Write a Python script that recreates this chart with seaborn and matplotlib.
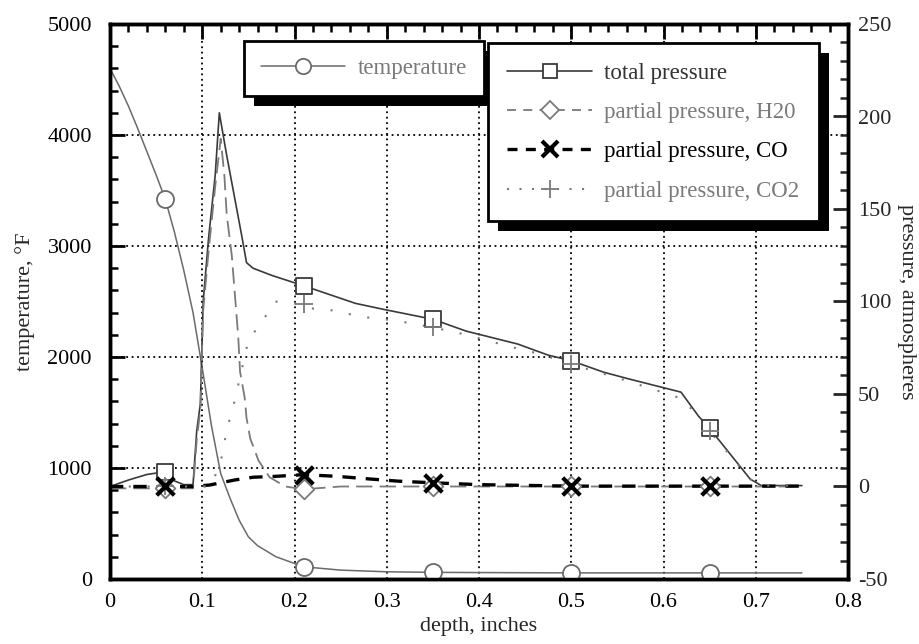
import matplotlib
matplotlib.use("Agg")
import matplotlib.pyplot as plt
import pandas as pd
import seaborn as sns
from matplotlib.lines import Line2D
from matplotlib.patches import Rectangle
from matplotlib.transforms import IdentityTransform
from matplotlib.ticker import MultipleLocator

# ---------------- data ----------------
marker_depths = [0.06, 0.21, 0.35, 0.50, 0.65]

depth_temp = [0, .01, .02, .03, .04, .05, .06, .07, .08, .09, .10, .11, .12, .13,
              .14, .15, .16, .18, .21, .25, .30, .35, .40, .50, .60, .65, .75]
temperature = [4600, 4440, 4260, 4060, 3850, 3640, 3420, 3120, 2780, 2400, 1900,
               1380, 950, 730, 530, 380, 300, 200, 110, 80, 65, 60, 58, 55, 55, 55, 55]

depth_total = [0, .02, .04, .06, .07, .08, .09, .094, .098, .101, .107, .114, .1185,
               .1265, .137, .143, .148, .155, .176, .21, .266, .297, .35, .386, .442,
               .475, .50, .535, .562, .619, .638, .65, .694, .706, .75]
total_pressure = [0, 3.5, 6.5, 8, 3, 1, 1, 30, 45, 100, 135, 168, 202,
                  179, 151, 135, 121, 118, 114, 108.5, 99, 95.7, 90.4, 84, 77,
                  71, 68, 61.8, 58.2, 51, 38, 31.4, 4, 0.5, 0.5]

depth_h2o = [0, .03, .06, .09, .094, .098, .101, .107, .114, .12, .124, .1265, .132,
             .1355, .139, .141, .146, .148, .152, .161, .173, .19, .21, .25, .35,
             .50, .65, .75]
pp_h2o = [-1, -1, -1, -1, 25, 42, 95, 128, 162, 188, 168, 147, 125,
          103, 81, 62, 48, 37, 26, 14, 5, 0, -1.5, 0, 0,
          0, 0, 0]

depth_co = [0, .06, .09, .108, .135, .155, .18, .21, .246, .268, .291, .312, .35,
            .40, .50, .65, .75]
pp_co = [0, 0, 0, 0.8, 3.5, 5, 5.5, 6.4, 5.5, 4.6, 3.7, 2.9, 2,
         1, 0.2, 0.2, 0.2]

depth_co2 = [0, .06, .11, .112, .12, .124, .129, .135, .15, .166, .179, .21, .221,
             .2465, .268, .291, .312, .35, .378, .446, .467, .50, .555, .62, .638,
             .65, .694, .706, .75]
pp_co2 = [0, 0, 0, 3.5, 13, 24, 35, 46, 79, 90, 100, 98.4, 96,
          95, 92, 90.7, 89.5, 86, 83, 74, 71.6, 66, 58, 47.5, 37.7,
          30, 4, 0.5, 0.5]

x_ticks = [0, 0.1, 0.2, 0.3, 0.4, 0.5, 0.6, 0.7, 0.8]
left_ticks = [0, 1000, 2000, 3000, 4000, 5000]
right_ticks = [-50, 0, 50, 100, 150, 200, 250]

labels = ["temperature", "total pressure", "partial pressure, H20",
          "partial pressure, CO", "partial pressure, CO2"]

# ---------------- style ----------------
sns.set_theme(style="white")
plt.rcParams['font.family'] = ['Liberation Serif', 'DejaVu Serif']
plt.rcParams['mathtext.fontset'] = 'stix'

C_TEMP = '#6a6a6a'
C_TOT = '#3a3a3a'
C_H2O = '#7a7a7a'
C_CO = '#000000'
C_CO2 = '#7a7a7a'

fig = plt.figure(figsize=(9.19, 6.44), dpi=100)
ax = fig.add_axes([110 / 919, 1 - 579 / 644, (848 - 110) / 919, (579 - 24) / 644])
ax2 = ax.twinx()


def frame(x, y):
    return pd.DataFrame({"x": x, "y": y})


def at_markers(x, y):
    d = frame(x, y)
    return d[d["x"].round(4).isin([round(m, 4) for m in marker_depths])]


# temperature on the left axis
sns.lineplot(data=frame(depth_temp, temperature), x="x", y="y", ax=ax, color=C_TEMP,
             lw=1.1, estimator=None, sort=False)
mt = at_markers(depth_temp, temperature)
sns.scatterplot(data=mt, x="x", y="y", ax=ax, marker='o', s=150, color='white',
                edgecolor=C_TEMP, linewidth=1.3, zorder=4)

# pressures on the right axis
sns.lineplot(data=frame(depth_total, total_pressure), x="x", y="y", ax=ax2, color=C_TOT,
             lw=1.2, estimator=None, sort=False)
sns.lineplot(data=frame(depth_h2o, pp_h2o), x="x", y="y", ax=ax2, color=C_H2O,
             lw=1.3, estimator=None, sort=False, dashes=False, linestyle=(0, (9, 4)))
sns.lineplot(data=frame(depth_co, pp_co), x="x", y="y", ax=ax2, color=C_CO,
             lw=2.4, estimator=None, sort=False, linestyle=(0, (4, 3)))
sns.lineplot(data=frame(depth_co2, pp_co2), x="x", y="y", ax=ax2, color=C_CO2,
             lw=1.5, estimator=None, sort=False, linestyle=(0, (1, 8)))

sns.scatterplot(data=at_markers(depth_total, total_pressure), x="x", y="y", ax=ax2,
                marker='s', s=120, color='white', edgecolor=C_TOT, linewidth=1.3, zorder=4)
sns.scatterplot(data=at_markers(depth_h2o, pp_h2o), x="x", y="y", ax=ax2,
                marker='D', s=100, color='white', edgecolor=C_H2O, linewidth=1.3, zorder=4)
sns.scatterplot(data=at_markers(depth_co2, pp_co2), x="x", y="y", ax=ax2,
                marker='+', s=170, color=C_CO2, linewidth=1.3, zorder=5)
sns.scatterplot(data=at_markers(depth_co, pp_co), x="x", y="y", ax=ax2,
                marker='x', s=160, color=C_CO, linewidth=3.0, zorder=6)

# ---------------- axes ----------------
ax.set_xlim(0, 0.8)
ax.set_ylim(0, 5000)
ax2.set_ylim(-50, 250)
ax.set_xticks(x_ticks)
ax.set_xticklabels([f"{v:g}" for v in x_ticks])
ax.set_yticks(left_ticks)
ax.set_yticklabels([str(v) for v in left_ticks])
ax2.set_yticks(right_ticks)
ax2.set_yticklabels([str(v) for v in right_ticks])
ax.xaxis.set_minor_locator(MultipleLocator(0.02))
ax.yaxis.set_minor_locator(MultipleLocator(200))
ax2.yaxis.set_minor_locator(MultipleLocator(10))

ax.grid(True, which='major', color='black', linestyle=(0, (1, 2)), linewidth=1.3)
ax2.grid(False)

ax.tick_params(axis='both', which='both', direction='in', top=True, right=False,
               labelsize=16, colors='black')
ax.tick_params(axis='x', which='both', pad=10)
ax.tick_params(axis='y', which='both', pad=13)
ax.tick_params(which='major', length=10.5, width=2.0)
ax.tick_params(which='minor', length=6, width=1.8)
ax2.tick_params(axis='y', which='both', direction='in', labelsize=16, pad=7)
ax2.tick_params(which='major', length=10.5, width=2.0)
ax2.tick_params(which='minor', length=6, width=1.8)

for a in (ax, ax2):
    for s in a.spines.values():
        s.set_linewidth(2.5)
        s.set_color('black')

ax.set_xlabel("depth, inches", fontsize=16, labelpad=4)
ax.set_ylabel("temperature, °F", fontsize=16, labelpad=9)
ax2.set_ylabel("pressure, atmospheres", fontsize=16, rotation=270, labelpad=18)
ax.set_facecolor('white')

# ---------------- legends ----------------
h_temp = Line2D([], [], color=C_TEMP, lw=1.1, marker='o', markersize=11,
                markerfacecolor='white', markeredgecolor=C_TEMP, markeredgewidth=1.3)
h_tot = Line2D([], [], color=C_TOT, lw=1.2, marker='s', markersize=10,
               markerfacecolor='white', markeredgecolor=C_TOT, markeredgewidth=1.3)
h_h2o = Line2D([], [], color=C_H2O, lw=1.3, linestyle=(0, (5, 4)), marker='D',
               markersize=9, markerfacecolor='white', markeredgecolor=C_H2O, markeredgewidth=1.3)
h_co = Line2D([], [], color=C_CO, lw=2.4, linestyle=(0, (3, 2.5)), marker='x',
              markersize=12, markeredgewidth=3.0)
h_co2 = Line2D([], [], color=C_CO2, lw=1.5, linestyle=(0, (1, 5)), marker='+',
               markersize=13, markeredgewidth=1.3)

common = dict(loc='upper left', bbox_transform=fig.transFigure, frameon=True,
              fancybox=False, edgecolor='black', framealpha=1, fontsize=16.5,
              handlelength=3.67, handletextpad=0.55, borderaxespad=0, numpoints=1)

leg1 = ax2.legend(handles=[h_temp], labels=[labels[0]],
                  bbox_to_anchor=(244 / 919, 1 - 41 / 644), borderpad=0.75, **common)
leg1.get_frame().set_linewidth(2.0)
leg1.get_texts()[0].set_color('#7a7a7a')
ax2.add_artist(leg1)

leg2 = ax2.legend(handles=[h_tot, h_h2o, h_co, h_co2], labels=labels[1:],
                  bbox_to_anchor=(488 / 919, 1 - 43 / 644), borderpad=0.85,
                  labelspacing=0.8, **common)
leg2.get_frame().set_linewidth(2.0)
for t, c in zip(leg2.get_texts(), ['#333333', '#7a7a7a', '#000000', '#7a7a7a']):
    t.set_color(c)

fig.canvas.draw()
renderer = fig.canvas.get_renderer()
for lg in (leg1, leg2):
    bb = lg.get_window_extent(renderer)
    sh = Rectangle((bb.x0 + 10, bb.y0 - 10), bb.width, bb.height,
                   transform=IdentityTransform(), facecolor='black', edgecolor='none',
                   zorder=lg.get_zorder() - 0.5, clip_on=False)
    ax2.add_artist(sh)
    sh.set_clip_on(False)

fig.savefig("out.png", dpi=100)
